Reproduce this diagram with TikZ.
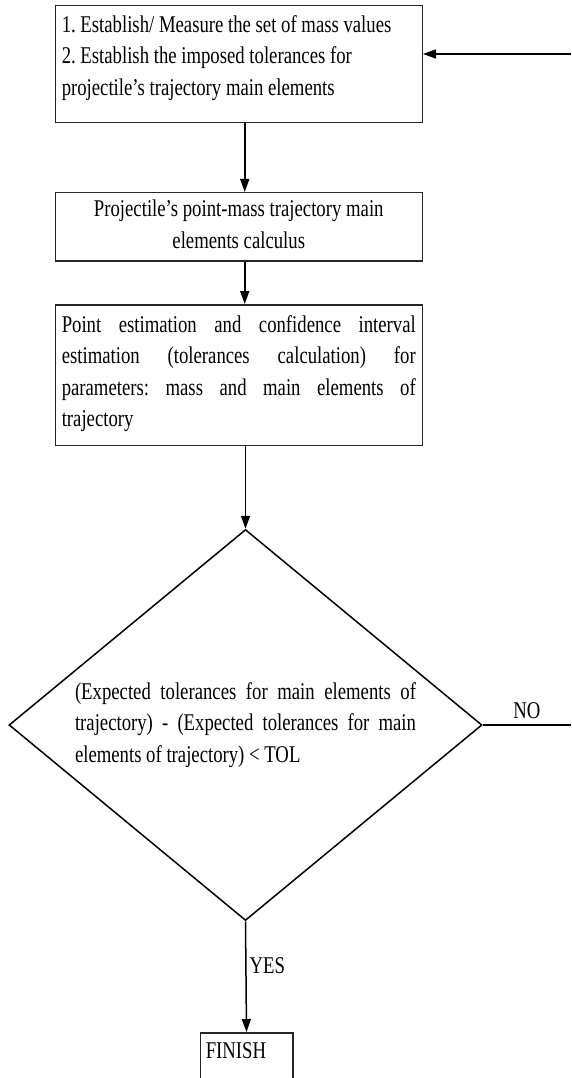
\documentclass[tikz,border=0pt]{standalone}
\usepackage{fontspec}
\setmainfont{Liberation Serif}[FakeStretch=0.78]
\usetikzlibrary{arrows.meta,shapes.geometric}
\frenchspacing
\tikzset{
  flowBox/.style={draw=black!85, line width=1.5pt, anchor=north west,
    inner xsep=6.5pt, inner ysep=0pt, text width=354pt},
  flowLine/.style={line width=1.5pt}
}

\begin{document}
\begin{tikzpicture}[x=1pt, y=1pt, >={Triangle[length=13pt,width=9pt]},
  font=\fontsize{24}{31.5}\selectfont]
  \clip (0,0) rectangle (571,-1078);

  % Create boxes
  \node[flowBox, align=flush left, text height=26.7pt, text depth=90pt] (massBox)
    at (54.5,-5)
    {1. Establish/ Measure the set of mass values\\
     2. Establish the imposed tolerances for\\
     projectile's trajectory main elements};
  \node[flowBox, align=flush center, text height=24pt, text depth=44pt] (calcBox)
    at (54.5,-192)
    {Projectile's point-mass trajectory main\\elements calculus};
  \node[flowBox, align=justify, text height=27.7pt, text depth=112.8pt] (estimBox)
    at (54.5,-304)
    {Point estimation and confidence interval\linebreak
     estimation (tolerances calculation) for\linebreak
     parameters: mass and main elements of\linebreak
     trajectory};

  % Create the decision
  \node[draw, diamond, aspect=1.21, line width=1.5pt, inner sep=0pt,
    minimum width=473pt, minimum height=391pt, text width=341pt,
    align=justify] (tolCheck) at (245.5,-725)
    {(Expected tolerances for main elements of\linebreak
     trajectory) - (Expected tolerances for main\linebreak
     elements of trajectory) < TOL};

  \node[flowBox, text width=81.5pt, inner xsep=5.5pt, align=flush left,
    text height=26pt, text depth=60pt] (finish) at (199.5,-1032) {FINISH};

  % Loop ends at the right edge
  \coordinate (loopIn) at (571,-54);
  \coordinate (loopOut) at (571,-725);

  % Connect them using named anchors
  \draw[flowLine, ->] ([xshift=6pt]massBox.south) -- ([xshift=6pt]calcBox.north);
  \draw[flowLine, ->] ([xshift=6pt]calcBox.south) -- ([xshift=6pt]estimBox.north);
  \draw[flowLine, ->] (estimBox.south -| tolCheck.north) -- (tolCheck.north);
  \draw[flowLine, ->] (tolCheck.south) -- node[right, pos=0.4, inner sep=3pt] {YES} (finish.north);
  \draw[flowLine] (tolCheck.east) -- node[above, inner sep=6pt] {NO} (loopOut);
  \draw[flowLine, ->] (loopIn) -- (loopIn -| massBox.east);
\end{tikzpicture}
\end{document}
